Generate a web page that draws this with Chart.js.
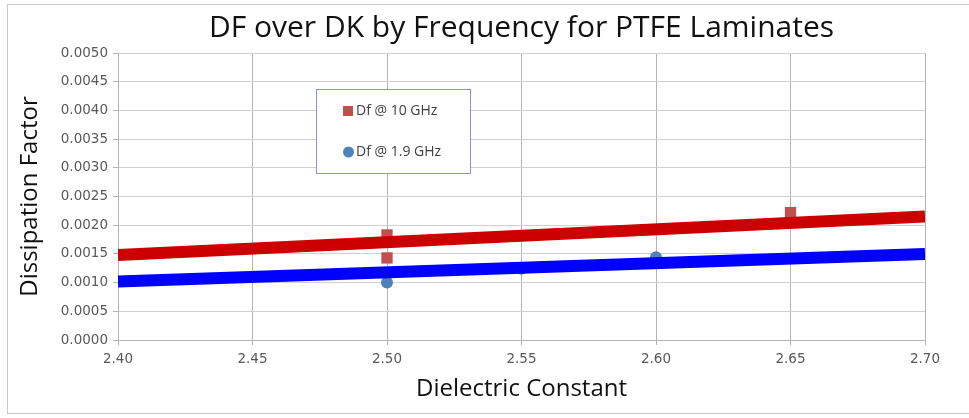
<!DOCTYPE html>
<html>
<head>
<meta charset="utf-8">
<script src="https://cdn.jsdelivr.net/npm/chart.js@4.4.1/dist/chart.umd.min.js"></script>
<style>
  html, body { margin: 0; padding: 0; background: #fff; }
  #wrap { position: relative; width: 969px; height: 418px; overflow: hidden; }
  #frame { position: absolute; left: 7px; top: 4px; width: 990px; height: 408px; border: 1px solid #c8c8c8; }
  #grafik { position: absolute; left: 0; top: 0; }
</style>
</head>
<body>
<div id="wrap">
  <div id="frame"></div>
  <canvas id="grafik" width="969" height="418"></canvas>
</div>
<script>
// Veriler
const dk10 = [2.50, 2.50, 2.65];
const df10 = [0.00183, 0.00143, 0.00222];
const dk19 = [2.50, 2.55, 2.60];
const df19 = [0.00100, 0.00124, 0.00144];
const trendDk = [2.40, 2.70];
const trend10 = [0.00148, 0.00215];
const trend19 = [0.00102, 0.00150];
const seriesLabels = ['Df @ 10 GHz', 'Df @ 1.9 GHz'];

const toPoints = (xs, ys) => xs.map((x, i) => ({ x: x, y: ys[i] }));

// Grafik içindeki lejant kutusu
const legendBox = {
  id: 'legendBox',
  afterDraw(chart) {
    const ctx = chart.ctx;
    const a = chart.chartArea;
    const x = a.left + 198, y = a.top + 36, w = 154, h = 84;
    ctx.save();
    ctx.fillStyle = '#ffffff';
    ctx.fillRect(x, y, w, h);
    ctx.strokeStyle = '#8f8fe0';
    ctx.lineWidth = 1;
    ctx.strokeRect(x + 0.5, y + 0.5, w, h);
    ctx.font = '14px "Open Sans", sans-serif';
    ctx.textBaseline = 'middle';
    // kırmızı kare
    ctx.fillStyle = '#c0504d';
    ctx.fillRect(x + 27, y + 17, 10, 10);
    ctx.fillStyle = '#404040';
    ctx.fillText(seriesLabels[0], x + 40, y + 22);
    // mavi daire
    ctx.fillStyle = '#4f81bd';
    ctx.beginPath();
    ctx.arc(x + 32.5, y + 63, 5.5, 0, Math.PI * 2);
    ctx.fill();
    ctx.fillStyle = '#404040';
    ctx.fillText(seriesLabels[1], x + 40, y + 63);
    ctx.restore();
  }
};

new Chart(document.getElementById('grafik'), {
  type: 'scatter',
  data: {
    datasets: [
      {
        label: 'trend10',
        type: 'line',
        data: toPoints(trendDk, trend10),
        borderColor: '#cc0000',
        borderWidth: 12,
        pointRadius: 0,
        order: 0
      },
      {
        label: 'trend19',
        type: 'line',
        data: toPoints(trendDk, trend19),
        borderColor: '#0000ff',
        borderWidth: 12,
        pointRadius: 0,
        order: 0
      },
      {
        label: seriesLabels[0],
        data: toPoints(dk10, df10),
        pointStyle: 'rect',
        pointRadius: 8,
        backgroundColor: '#c0504d',
        borderColor: '#c0504d',
        borderWidth: 0,
        order: 1
      },
      {
        label: seriesLabels[1],
        data: toPoints(dk19, df19),
        pointStyle: 'circle',
        pointRadius: 6,
        backgroundColor: '#4f81bd',
        borderColor: '#4f81bd',
        borderWidth: 0,
        order: 1
      }
    ]
  },
  options: {
    responsive: false,
    animation: false,
    layout: { padding: { left: 0, right: 44, top: 0, bottom: 0 } },
    plugins: {
      legend: { display: false },
      tooltip: { enabled: false },
      title: {
        display: true,
        text: 'DF over DK by Frequency for PTFE Laminates',
        fullSize: false,
        color: '#111111',
        font: { family: '"Open Sans", sans-serif', size: 30, weight: 'normal' },
        padding: { top: 10, bottom: 7 }
      }
    },
    scales: {
      x: {
        type: 'linear',
        min: 2.40,
        max: 2.70,
        ticks: {
          stepSize: 0.05,
          color: '#595959',
          font: { family: '"DejaVu Sans", sans-serif', size: 13.5 },
          padding: 6,
          callback: v => v.toFixed(2)
        },
        grid: { color: '#b4b4b4', tickLength: 5, tickColor: '#b4b4b4' },
        border: { color: '#b4b4b4' },
        title: {
          display: true,
          text: 'Dielectric Constant',
          color: '#111111',
          font: { family: '"Open Sans", sans-serif', size: 24 },
          padding: { top: 0, bottom: 14 }
        },
        afterFit: scale => { scale.height = 78; }
      },
      y: {
        min: 0,
        max: 0.005,
        ticks: {
          stepSize: 0.0005,
          color: '#595959',
          font: { family: '"DejaVu Sans", sans-serif', size: 13.5 },
          padding: 5,
          callback: v => v.toFixed(4)
        },
        grid: { color: '#d0d0d0', tickLength: 5, tickColor: '#b4b4b4' },
        border: { color: '#b4b4b4' },
        title: {
          display: true,
          text: 'Dissipation Factor',
          color: '#111111',
          font: { family: '"Open Sans", sans-serif', size: 24 },
          padding: { top: 16, bottom: 0 }
        },
        afterFit: scale => { scale.width = 118; }
      }
    }
  },
  plugins: [legendBox]
});
</script>
</body>
</html>
